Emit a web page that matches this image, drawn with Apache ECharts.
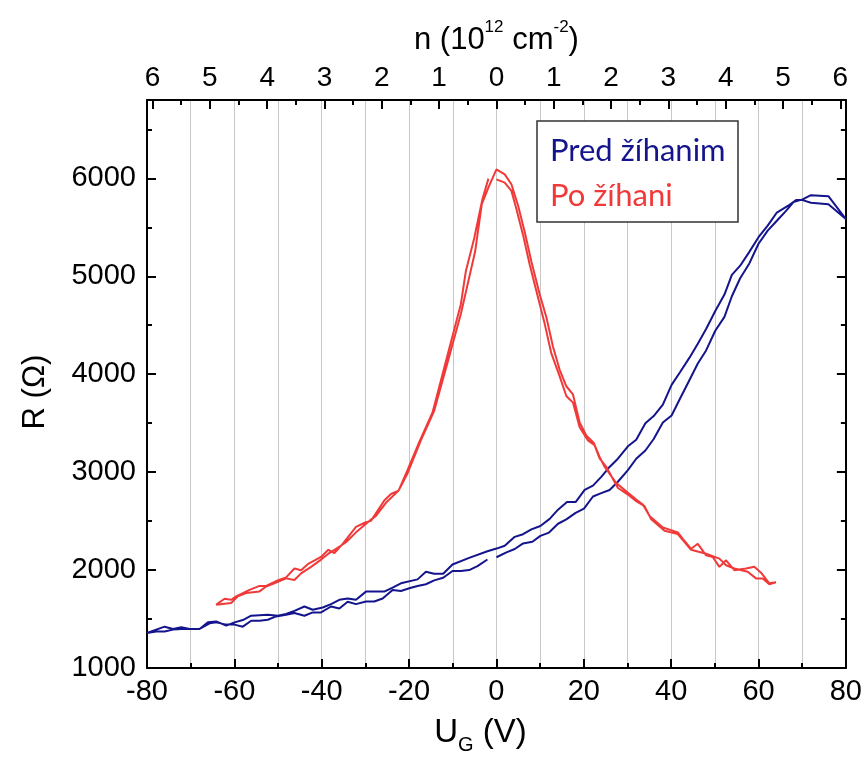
<!DOCTYPE html>
<html><head><meta charset="utf-8">
<script src="https://cdn.jsdelivr.net/npm/echarts@6/dist/echarts.min.js"></script>
<style>html,body{margin:0;padding:0;background:#fff}#c{width:865px;height:760px}</style>
</head><body><div id="c"></div>
<script>
// Pred žíhanim: one continuous sweep path (0 -> 80 -> -80 -> ~-2)
const preU = [0,2.29,4.19,6.10,8.23,10.06,12.04,14.10,16.0,18.13,20.04,22.1,24.0,25.9,27.8,30.1,32.0,34.1,36.0,38.1,40.1,42.1,44.2,46.1,48.0,50.1,52.2,53.9,55.8,57.9,60.0,62.1,64.2,66.3,68.0,70.1,72.0,76.0,80,
76.0,72.0,70.1,68.6,66.7,64.2,62.1,60.0,57.9,55.8,53.9,52.2,50.1,48.0,46.1,44.2,42.1,40.1,38.1,36.0,34.1,32.0,30.1,27.8,25.9,24.0,22.1,20.19,18.13,16.15,14.10,12.19,10.06,8.0,6.10,4.19,1.90,0.2,
-2.06,-6.25,-10.06,-12.19,-14.25,-16.15,-18.06,-21.87,-23.77,-25.68,-29.87,-32.15,-34.06,-35.96,-37.87,-39.77,-42.06,-43.96,-46.25,-48.15,-50.06,-52.34,-56.15,-58.06,-59.96,-61.87,-64.15,-66.06,-67.96,-70.25,-72.15,-74.06,-75.96,-80,
-77.87,-75.96,-74.06,-72.15,-70.25,-67.96,-65.68,-64.15,-61.87,-59.96,-58.06,-56.15,-54.25,-52.34,-50.44,-48.15,-46.25,-43.96,-42.06,-40.15,-37.87,-35.96,-34.06,-32.15,-29.87,-27.96,-26.06,-23.77,-21.87,-19.96,-18.06,-16.15,-14.25,-12.19,-10.06,-8.15,-6.25,-4.34,-2.06];
const preR = [2131,2181,2215,2272,2289,2349,2383,2473,2517,2584,2627,2751,2785,2818,2902,3020,3137,3221,3338,3506,3579,3757,3941,4109,4243,4444,4585,4796,4980,5131,5332,5466,5567,5668,5758,5785,5828,5818,5584,
5735,5751,5778,5778,5718,5651,5517,5399,5249,5108,5014,4813,4645,4461,4310,4169,4025,3891,3690,3573,3499,3331,3264,3137,3053,2952,2862,2818,2694,2694,2617,2523,2450,2416,2366,2339,2249,2222,
2192,2125,2057,1963,1963,1983,1905,1865,1821,1780,1780,1696,1709,1696,1652,1618,1595,1628,1584,1551,1534,1544,1534,1490,1466,1432,1476,1466,1399,1399,1416,1399,1422,1358,
1372,1372,1392,1399,1399,1399,1456,1466,1443,1443,1422,1483,1483,1493,1527,1544,1561,1534,1568,1568,1628,1608,1676,1652,1679,1679,1709,1797,1787,1814,1838,1855,1895,1922,1990,1990,2000,2040,2108];

// Po žíhani: one continuous sweep path (0 -> 64 -> -64 -> ~-2)
const poU = [0,1.9,3.43,4.57,6.1,7.62,9.52,11.05,12.57,14.48,16.0,17.52,19.05,20.95,22.48,23.62,25.14,27.81,30.1,32.0,33.9,35.43,38.48,41.52,44.57,48.0,51.05,52.57,54.48,57.52,59.43,60.95,62.48,64.0,
62.48,60.57,59.05,57.14,54.48,52.57,51.05,49.52,48.0,46.1,44.57,42.67,41.52,40.0,38.1,35.05,33.52,32.0,29.71,27.43,24.76,23.62,22.25,20.57,19.05,17.52,16.0,14.48,12.95,11.43,9.9,8.0,6.48,4.95,3.43,1.90,0,
-1.68,-3.35,-4.88,-6.25,-8.15,-10.82,-14.25,-17.3,-20.34,-22.4,-25.3,-27.58,-29.1,-32.15,-34.44,-36.72,-38.48,-40.15,-42.44,-44.72,-46.25,-48.15,-50.44,-52.72,-54.25,-57.3,-59.2,-60.72,-64.15,
-62.25,-60.72,-59.58,-56.53,-54.25,-52.72,-50.44,-48.15,-46.25,-44.72,-43.2,-40.15,-38.48,-37.1,-35.2,-32.15,-30.02,-28.72,-25.68,-24.15,-22.4,-20.34,-17.68,-14.63,-11.58,-8.15,-7.01,-5.1,-3.2,-1.83];
const poR = [5990,5956,5872,5688,5420,5118,4783,4514,4212,3978,3777,3710,3458,3324,3274,3140,3055,2838,2771,2703,2653,2519,2402,2368,2207,2167,2117,2049,2016,1983,1915,1915,1855,1875,
1865,1973,2033,2016,1999,2100,2033,2134,2150,2268,2217,2318,2385,2408,2435,2553,2670,2720,2804,2888,3055,3156,3300,3374,3508,3793,3877,4045,4280,4581,4816,5151,5453,5722,5940,6040,6091,
5923,5738,5252,4984,4615,4179,3626,3324,2989,2811,2687,2553,2502,2385,2284,2217,2167,2107,2033,1966,1898,1915,1872,1832,1782,1765,1731,1664,1647,
1707,1697,1731,1798,1838,1838,1888,1925,2016,1999,2060,2134,2207,2174,2268,2442,2486,2502,2710,2777,2811,3022,3307,3609,4129,4715,5051,5386,5789,5997];

const yTicks = [1000,2000,3000,4000,5000,6000];
const yMinor = [1500,2500,3500,4500,5500,6500];
const topN = [-6,-5,-4,-3,-2,-1,0,1,2,3,4,5,6];          // labels shown as |n|
const topNMinor = [-5.5,-4.5,-3.5,-2.5,-1.5,-0.5,0.5,1.5,2.5,3.5,4.5,5.5];
const voltsPerN = 13.12;   // V per 10^12 cm^-2

const navy = '#14148c', red = '#f03a3a';
const F = '"Liberation Sans", Arial, sans-serif';
const blk = {color:'#000', width:2};

const chart = echarts.init(document.getElementById('c'), null, {renderer:'canvas'});
const baseX = {type:'value', min:-80, max:80, splitLine:{show:false}};
const baseY = {type:'value', min:1000, max:6800, splitLine:{show:false}};
chart.setOption({
  animation:false,
  backgroundColor:'#fff',
  grid:{left:147, right:18, top:100, bottom:84, containLabel:false},
  xAxis:[
    Object.assign({}, baseX, {
      position:'bottom', interval:20,
      axisLine:{onZero:false, lineStyle:blk},
      axisTick:{inside:true, length:9, lineStyle:blk},
      minorTick:{show:true, splitNumber:2, length:5, lineStyle:blk},
      splitLine:{show:true, lineStyle:{color:'#c8c8c8', width:1}},
      minorSplitLine:{show:true, lineStyle:{color:'#c8c8c8', width:1}},
      axisLabel:{fontSize:29, color:'#000', fontFamily:F, margin:9, formatter: v => String(v)},
      name:'{m|U}{s|G}{m| (V)}', nameLocation:'middle', nameGap:48,
      nameTextStyle:{padding:[0,32,0,0], rich:{
        m:{fontSize:33, fontFamily:F, color:'#000', verticalAlign:'bottom', padding:[0,0,6,0]},
        s:{fontSize:20, fontFamily:F, color:'#000', verticalAlign:'bottom'}}}
    }),
    Object.assign({}, baseX, {
      position:'top',
      axisLine:{onZero:false, lineStyle:blk},
      axisTick:{inside:true, length:9, lineStyle:blk, customValues: topN.map(n=>n*voltsPerN)},
      axisLabel:{fontSize:28, color:'#000', fontFamily:F, margin:8,
        customValues: topN.map(n=>n*voltsPerN),
        formatter: v => String(Math.round(Math.abs(v)/voltsPerN))},
      name:'{m|n (10}{p|12}{m| cm}{p|-2}{m|)}', nameLocation:'middle', nameGap:44,
      nameTextStyle:{rich:{
        m:{fontSize:31, fontFamily:F, color:'#000', verticalAlign:'top', padding:[6,0,0,0]},
        p:{fontSize:17, fontFamily:F, color:'#000', verticalAlign:'top'}}}
    }),
    Object.assign({}, baseX, {
      position:'top',
      axisLine:{show:false, onZero:false},
      axisTick:{inside:true, length:5, lineStyle:blk, customValues: topNMinor.map(n=>n*voltsPerN)},
      axisLabel:{show:false}
    })
  ],
  yAxis:[
    Object.assign({}, baseY, {
      position:'left',
      axisLine:{onZero:false, lineStyle:blk},
      axisTick:{inside:true, length:9, lineStyle:blk, customValues:yTicks},
      axisLabel:{fontSize:29, color:'#000', fontFamily:F, margin:11, customValues:yTicks, formatter: v => String(v)},
      name:'R (Ω)', nameLocation:'middle', nameRotate:90, nameGap:96,
      nameTextStyle:{fontSize:31, fontFamily:F, color:'#000', padding:[0,16,0,0]}
    }),
    Object.assign({}, baseY, {
      position:'left', axisLine:{show:false, onZero:false},
      axisTick:{inside:true, length:5, lineStyle:blk, customValues:yMinor},
      axisLabel:{show:false}
    }),
    Object.assign({}, baseY, {
      position:'right',
      axisLine:{onZero:false, lineStyle:blk},
      axisTick:{inside:true, length:9, lineStyle:blk, customValues:yTicks},
      axisLabel:{show:false}
    }),
    Object.assign({}, baseY, {
      position:'right', axisLine:{show:false, onZero:false},
      axisTick:{inside:true, length:5, lineStyle:blk, customValues:yMinor},
      axisLabel:{show:false}
    })
  ],
  series:[
    {name:'Pred žíhanim', type:'line', xAxisIndex:0, yAxisIndex:0, showSymbol:false, symbol:'none',
     lineStyle:{color:navy, width:2}, data: preU.map((u,i)=>[u, preR[i]])},
    {name:'Po žíhani', type:'line', xAxisIndex:0, yAxisIndex:0, showSymbol:false, symbol:'none',
     lineStyle:{color:red, width:2}, data: poU.map((u,i)=>[u, poR[i]])}
  ],
  graphic:[
    {type:'rect', z:100, shape:{x:537, y:121, width:201, height:101},
     style:{fill:'#fff', stroke:'#333', lineWidth:1.5}},
    {type:'text', z:101, x:550, y:151,
     style:{text:'Pred žíhanim', fill:navy, font:'31px Lato', textAlign:'left', textVerticalAlign:'middle', verticalAlign:'middle'}},
    {type:'text', z:101, x:550, y:196,
     style:{text:'Po žíhani', fill:red, font:'31px Lato', textAlign:'left', textVerticalAlign:'middle', verticalAlign:'middle'}}
  ]
});
</script></body></html>
